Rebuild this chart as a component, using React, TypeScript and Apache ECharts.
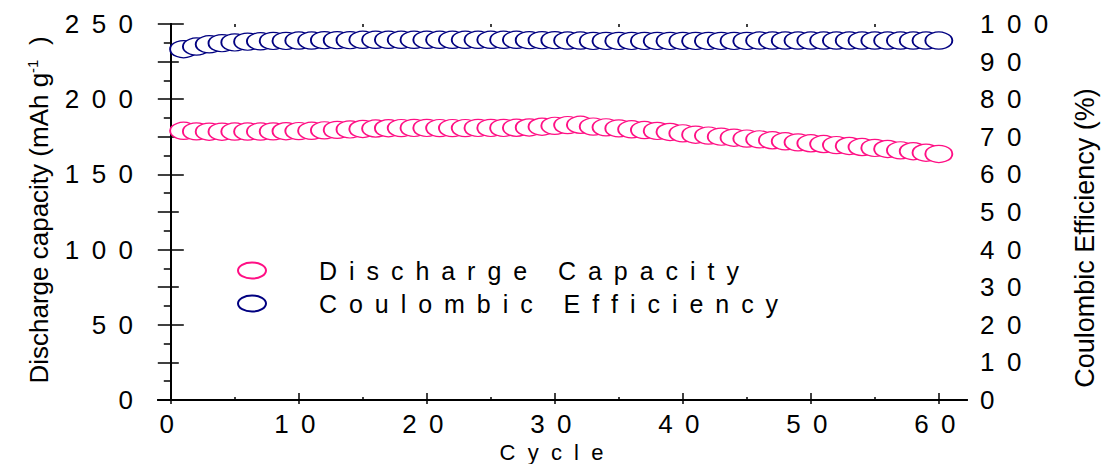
import React, { useEffect, useRef } from "react";
import * as echarts from "echarts";

const cycles = [
  1, 2, 3, 4, 5, 6, 7, 8, 9, 10, 11, 12, 13, 14, 15, 16, 17, 18, 19, 20,
  21, 22, 23, 24, 25, 26, 27, 28, 29, 30, 31, 32, 33, 34, 35, 36, 37, 38, 39, 40,
  41, 42, 43, 44, 45, 46, 47, 48, 49, 50, 51, 52, 53, 54, 55, 56, 57, 58, 59, 60,
];

const dischargeCapacity = [
  179.0, 178.6, 178.4, 178.4, 178.5, 178.5, 178.5, 178.6, 178.7, 178.8,
  179.0, 179.3, 179.6, 179.9, 180.2, 180.5, 180.7, 180.8, 180.9, 180.9,
  180.8, 180.8, 180.8, 180.9, 180.9, 180.9, 181.0, 181.2, 181.7, 182.3,
  182.8, 183.0, 181.8, 181.3, 180.6, 180.0, 179.5, 178.9, 178.2, 177.3,
  176.4, 175.8, 175.1, 174.4, 173.8, 173.3, 172.7, 172.0, 171.3, 170.7,
  170.2, 169.5, 168.9, 168.2, 167.6, 166.9, 166.0, 165.4, 164.4, 163.6,
];

const coulombicEfficiency = [
  93.3, 94.0, 94.6, 94.9, 95.1, 95.3, 95.4, 95.5, 95.5, 95.6,
  95.6, 95.7, 95.7, 95.7, 95.8, 95.8, 95.8, 95.8, 95.8, 95.8,
  95.8, 95.8, 95.8, 95.8, 95.8, 95.8, 95.8, 95.7, 95.7, 95.7,
  95.6, 95.6, 95.5, 95.5, 95.5, 95.5, 95.5, 95.5, 95.5, 95.5,
  95.5, 95.5, 95.5, 95.5, 95.5, 95.6, 95.6, 95.6, 95.6, 95.6,
  95.6, 95.6, 95.6, 95.6, 95.6, 95.6, 95.6, 95.6, 95.6, 95.6,
];

const xMajorTicks = [0, 10, 20, 30, 40, 50, 60];
const xMinorTicks = [5, 15, 25, 35, 45, 55];

const seriesNames = ["Discharge Capacity", "Coulombic Efficiency"];
const xTitle = "Cycle";
const leftTitle = "Discharge capacity (mAh g";
const rightTitle = "Coulombic Efficiency (%)";

const FONT = "'Liberation Sans', Arial, Helvetica, sans-serif";
const PINK = "#ff0f84";
const BLUE = "#000080";
const NB = "\u00A0";
const TH = "\u2009";

const spaceDigits = (v: number) => String(v).split("").join(NB + TH);
const spaceText = (s: string, gap: string, wordGap: string) =>
  s
    .split(" ")
    .map((w) => w.split("").join(gap))
    .join(wordGap);

export default function App() {
  const ref = useRef<HTMLDivElement>(null);

  useEffect(() => {
    if (!ref.current) return;
    const chart = echarts.init(ref.current, null, { renderer: "svg" });

    const axisLine = { show: true, lineStyle: { color: "#000", width: 2 } };
    const tickStyle = { color: "#000", width: 1.5 };
    const baseX = {
      type: "value",
      min: -1,
      max: 62.2,
      splitLine: { show: false },
    };

    const option: any = {
      animation: false,
      backgroundColor: "#fff",
      textStyle: { fontFamily: FONT },
      grid: {
        left: 158,
        right: 136,
        top: 24,
        bottom: 64,
        containLabel: false,
        outerBoundsMode: "none",
      },
      legend: {
        orient: "vertical",
        left: 237,
        top: 258,
        padding: 0,
        itemWidth: 28,
        itemHeight: 16,
        itemGap: 8,
        icon: "path://M0,8 A14,8 0 1,1 28,8 A14,8 0 1,1 0,8 Z",
        data: seriesNames,
        formatter: (n: string) => spaceText(n, NB + TH, NB + TH + NB + NB + TH),
        textStyle: { fontSize: 25, color: "#000", fontFamily: FONT, padding: [0, 0, 0, 48] },
        selectedMode: false,
      },
      xAxis: [
        {
          ...baseX,
          position: "bottom",
          axisLine,
          axisTick: { show: true, inside: true, length: 7, customValues: xMajorTicks, lineStyle: tickStyle },
          axisLabel: {
            show: true,
            customValues: xMajorTicks,
            formatter: (v: number) => spaceDigits(v),
            fontSize: 26,
            color: "#000",
            margin: 11,
            fontFamily: FONT,
            padding: [0, 8, 0, 0],
          },
          name: spaceText(xTitle, NB + NB, NB + NB),
          nameLocation: "middle",
          nameGap: 38,
          nameTextStyle: {
            fontSize: 22,
            lineHeight: 22,
            color: "#000",
            fontFamily: FONT,
            padding: [0, 22, 0, 0],
          },
        },
        {
          ...baseX,
          position: "top",
          axisLine,
          axisTick: { show: true, inside: true, length: 4, customValues: xMajorTicks, lineStyle: tickStyle },
          axisLabel: { show: false },
        },
        {
          ...baseX,
          position: "bottom",
          offset: 0,
          axisLine: { show: false },
          axisTick: { show: true, inside: true, length: 3, customValues: xMinorTicks, lineStyle: tickStyle },
          axisLabel: { show: false },
        },
        {
          ...baseX,
          position: "top",
          offset: 0,
          axisLine: { show: false },
          axisTick: { show: true, inside: true, length: 3, customValues: xMinorTicks, lineStyle: tickStyle },
          axisLabel: { show: false },
        },
      ],
      yAxis: [
        {
          type: "value",
          position: "left",
          min: 0,
          max: 250,
          interval: 50,
          axisLine,
          axisTick: { show: true, inside: true, length: 13, lineStyle: tickStyle },
          minorTick: { show: true, splitNumber: 2, length: 8, lineStyle: tickStyle },
          splitLine: { show: false },
          axisLabel: {
            formatter: (v: number) => spaceDigits(v),
            fontSize: 26,
            color: "#000",
            margin: 25,
            fontFamily: FONT,
          },
          name: leftTitle + "{sup|-1}" + NB + NB + ")",
          nameLocation: "middle",
          nameRotate: 90,
          nameGap: 106,
          nameTextStyle: {
            fontSize: 26,
            color: "#000",
            fontFamily: FONT,
            padding: [0, 0, 0, 4],
            rich: {
              sup: { fontSize: 15, color: "#000", fontFamily: FONT, verticalAlign: "top", padding: [0, 0, 12, 0] },
            },
          },
        },
        {
          type: "value",
          position: "right",
          min: 0,
          max: 100,
          interval: 10,
          axisLine,
          axisTick: { show: true, inside: true, length: 13, lineStyle: tickStyle },
          minorTick: { show: true, splitNumber: 2, length: 7, lineStyle: tickStyle },
          splitLine: { show: false },
          axisLabel: {
            formatter: (v: number) => spaceDigits(v),
            fontSize: 26,
            color: "#000",
            margin: 13,
            fontFamily: FONT,
          },
          name: rightTitle,
          nameLocation: "middle",
          nameRotate: 90,
          nameGap: 104,
          nameTextStyle: { fontSize: 27, color: "#000", fontFamily: FONT, padding: [0, 52, 0, 0] },
        },
      ],
      series: [
        {
          name: seriesNames[0],
          type: "scatter",
          xAxisIndex: 0,
          yAxisIndex: 0,
          symbol: "circle",
          symbolSize: [27, 17],
          itemStyle: { color: "#fff", borderColor: PINK, borderWidth: 1.5, opacity: 1 },
          emphasis: { disabled: true },
          data: cycles.map((c, i) => [c, dischargeCapacity[i]]),
        },
        {
          name: seriesNames[1],
          type: "scatter",
          xAxisIndex: 0,
          yAxisIndex: 1,
          symbol: "circle",
          symbolSize: [27, 17],
          itemStyle: { color: "#fff", borderColor: BLUE, borderWidth: 1.5, opacity: 1 },
          emphasis: { disabled: true },
          data: cycles.map((c, i) => [c, coulombicEfficiency[i]]),
        },
      ],
    };

    chart.setOption(option);
    return () => chart.dispose();
  }, []);

  return (
    <div
      ref={ref}
      style={{ position: "absolute", left: 0, top: 0, width: 1103, height: 464, background: "#fff" }}
    />
  );
}
